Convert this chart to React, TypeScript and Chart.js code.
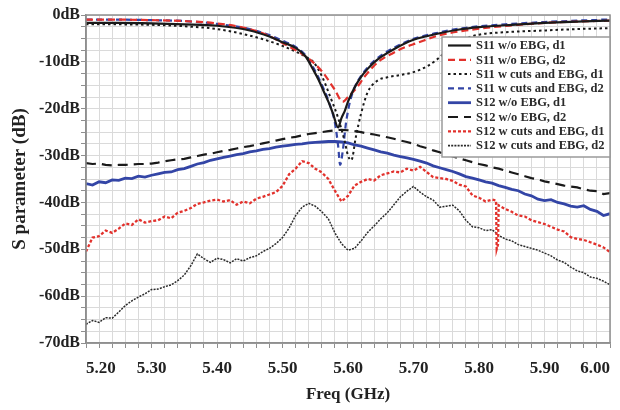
import React, { useEffect, useRef } from "react";
import { Chart, registerables } from "chart.js";

Chart.register(...registerables);

const FONT = '"Liberation Serif", "Times New Roman", serif';

// ---------- axis ----------
const X_MIN = 5.2;
const X_MAX = 6.0;
const Y_MIN = -70;
const Y_MAX = 0;

// ---------- legend labels ----------
const SERIES_LABELS = [
  "S11 w/o EBG, d1",
  "S11 w/o EBG, d2",
  "S11 w cuts and EBG, d1",
  "S11 w cuts and EBG, d2",
  "S12 w/o EBG, d1",
  "S12 w/o EBG, d2",
  "S12 w cuts and EBG, d1",
  "S12 w cuts and EBG, d2",
];

// ---------- S11 w/o EBG, d1 ----------
const S11_WO_D1_FREQ = [5.2, 5.25, 5.3, 5.35, 5.4, 5.45, 5.48, 5.5, 5.52, 5.535, 5.547, 5.555, 5.562, 5.57, 5.577, 5.585, 5.59, 5.595, 5.6, 5.61, 5.62, 5.63, 5.64, 5.65, 5.67, 5.7, 5.74, 5.77, 5.8, 5.85, 5.9, 5.95, 6.0];
const S11_WO_D1_DB = [-1.7, -1.7, -1.8, -2.0, -2.3, -3.3, -4.6, -5.8, -7.0, -8.8, -11.7, -13.8, -16.0, -18.5, -21.0, -24.0, -22.0, -20.5, -18.5, -15.5, -13.2, -11.5, -10.1, -9.0, -7.3, -5.3, -3.9, -3.1, -2.6, -2.1, -1.7, -1.4, -1.2];

// ---------- S11 w/o EBG, d2 ----------
const S11_WO_D2_FREQ = [5.2, 5.25, 5.3, 5.35, 5.4, 5.45, 5.48, 5.5, 5.52, 5.54, 5.56, 5.573, 5.58, 5.592, 5.6, 5.614, 5.625, 5.638, 5.65, 5.669, 5.685, 5.705, 5.74, 5.78, 5.82, 5.86, 5.9, 5.95, 6.0];
const S11_WO_D2_DB = [-1.0, -1.0, -1.1, -1.3, -1.8, -3.0, -4.5, -6.0, -7.5, -9.3, -12.0, -14.5, -16.0, -18.5, -17.5, -15.4, -13.2, -11.1, -9.6, -8.1, -7.0, -6.0, -4.3, -3.3, -2.6, -2.1, -1.7, -1.4, -1.2];

// ---------- S11 w cuts and EBG, d1 ----------
const S11_CUT_D1_FREQ = [5.2, 5.25, 5.3, 5.35, 5.4, 5.45, 5.48, 5.5, 5.52, 5.54, 5.547, 5.56, 5.573, 5.585, 5.595, 5.6, 5.605, 5.612, 5.62, 5.63, 5.645, 5.66, 5.68, 5.7, 5.72, 5.735, 5.76, 5.78, 5.8, 5.85, 5.9, 5.95, 6.0];
const S11_CUT_D1_DB = [-2.0, -2.0, -2.1, -2.4, -3.0, -4.4, -5.6, -6.6, -7.8, -9.3, -10.0, -13.0, -17.5, -22.0, -27.0, -30.0, -31.0, -26.0, -21.0, -16.5, -14.0, -13.3, -12.8, -12.2, -11.0, -9.6, -6.5, -5.0, -4.2, -3.6, -3.3, -3.0, -2.8];

// ---------- S11 w cuts and EBG, d2 ----------
const S11_CUT_D2_FREQ = [5.2, 5.25, 5.3, 5.35, 5.4, 5.45, 5.48, 5.5, 5.52, 5.535, 5.547, 5.562, 5.572, 5.58, 5.585, 5.588, 5.592, 5.597, 5.603, 5.61, 5.62, 5.63, 5.64, 5.65, 5.67, 5.7, 5.74, 5.77, 5.8, 5.85, 5.9, 5.95, 6.0];
const S11_CUT_D2_DB = [-1.0, -1.0, -1.1, -1.3, -1.9, -3.0, -4.3, -5.5, -6.8, -8.6, -11.2, -15.5, -19.0, -23.0, -28.0, -32.0, -29.0, -23.0, -18.5, -15.5, -13.0, -11.2, -9.8, -8.7, -7.0, -5.1, -3.7, -2.9, -2.4, -1.9, -1.5, -1.2, -0.9];

// ---------- S12 common frequency grid ----------
const S12_FREQ = [
  5.2, 5.21, 5.22, 5.23, 5.24, 5.25, 5.26, 5.27, 5.28, 5.29,
  5.3, 5.31, 5.32, 5.33, 5.34, 5.35, 5.36, 5.37, 5.38, 5.39,
  5.4, 5.41, 5.42, 5.43, 5.44, 5.45, 5.46, 5.47, 5.48, 5.49,
  5.5, 5.51, 5.52, 5.53, 5.54, 5.55, 5.56, 5.57, 5.58, 5.59,
  5.6, 5.61, 5.62, 5.63, 5.64, 5.65, 5.66, 5.67, 5.68, 5.69,
  5.7, 5.71, 5.72, 5.73, 5.74, 5.75, 5.76, 5.77, 5.78, 5.79,
  5.8, 5.81, 5.82, 5.83, 5.84, 5.85, 5.86, 5.87, 5.88, 5.89,
  5.9, 5.91, 5.92, 5.93, 5.94, 5.95, 5.96, 5.97, 5.98, 5.99,
  6.0,
];

// ---------- S12 w/o EBG, d1 ----------
const S12_WO_D1_DB = [
  -36.0, -36.3, -35.6, -35.8, -35.2, -35.3, -34.8, -34.9, -34.4, -34.6,
  -34.2, -33.9, -33.6, -33.5, -33.0, -32.8, -32.3, -31.8, -31.5, -31.0,
  -30.7, -30.4, -30.1, -29.8, -29.6, -29.2, -29.0, -28.7, -28.5, -28.2,
  -28.0, -27.8, -27.6, -27.5, -27.3, -27.2, -27.1, -27.0, -27.0, -27.1,
  -27.3, -27.7, -28.0, -28.4, -28.8, -29.2, -29.5, -29.9, -30.2, -30.5,
  -30.8, -31.2, -31.6, -32.2, -32.6, -33.0, -33.4, -33.9, -34.5, -34.8,
  -35.2, -35.6, -35.9, -36.4, -36.8, -37.2, -37.5, -38.2, -38.6, -39.3,
  -39.6, -39.4, -40.0, -40.3, -40.8, -41.0, -40.7, -41.5, -41.9, -42.8,
  -42.4,
];

// ---------- S12 w/o EBG, d2 ----------
const S12_WO_D2_DB = [
  -31.6, -31.8, -31.7, -32.0, -32.1, -32.0, -32.0, -31.9, -31.8, -31.8,
  -31.7, -31.5, -31.2, -31.0, -30.8, -30.7, -30.4, -30.1, -29.8, -29.6,
  -29.3, -29.0, -28.8, -28.5, -28.2, -28.0, -27.7, -27.4, -27.1, -26.8,
  -26.5, -26.2, -26.0, -25.7, -25.4, -25.2, -25.0, -24.8, -24.6, -24.5,
  -24.6, -24.8, -25.0, -25.3, -25.5, -25.8, -26.1, -26.4, -26.8, -27.1,
  -27.5, -28.0, -28.4, -28.9, -29.3, -29.8, -30.2, -30.6, -31.0, -31.4,
  -31.8, -32.1, -32.5, -32.8, -33.2, -33.6, -34.0, -34.4, -34.8, -35.1,
  -35.5, -35.8, -36.1, -36.4, -36.6, -36.8, -37.2, -37.5, -37.6, -38.2,
  -38.0,
];

// ---------- S12 w cuts and EBG, d1 (with narrow notch near 5.83) ----------
const S12_CUT_D1_FREQ = [
  5.2, 5.21, 5.22, 5.23, 5.24, 5.25, 5.26, 5.27, 5.28, 5.29,
  5.3, 5.31, 5.32, 5.33, 5.34, 5.35, 5.36, 5.37, 5.38, 5.39,
  5.4, 5.41, 5.42, 5.43, 5.44, 5.45, 5.46, 5.47, 5.48, 5.49,
  5.5, 5.51, 5.52, 5.53, 5.54, 5.55, 5.56, 5.57, 5.58, 5.59,
  5.6, 5.61, 5.62, 5.63, 5.64, 5.65, 5.66, 5.67, 5.68, 5.69,
  5.7, 5.71, 5.72, 5.73, 5.74, 5.75, 5.76, 5.77, 5.78, 5.79,
  5.8, 5.81, 5.82, 5.826, 5.827, 5.829, 5.83,
  5.84, 5.85, 5.86, 5.87, 5.88, 5.89,
  5.9, 5.91, 5.92, 5.93, 5.94, 5.95, 5.96, 5.97, 5.98, 5.99, 6.0,
];
const S12_CUT_D1_DB = [
  -50.5, -47.5, -47.2, -46.0, -46.5, -45.6, -44.5, -44.8, -43.6, -44.3,
  -44.0, -43.8, -43.0, -43.4, -42.2, -41.8, -41.2, -40.3, -40.0, -39.6,
  -39.4, -39.8, -39.5, -40.5, -39.8, -40.2, -39.2, -38.8, -38.3, -37.8,
  -36.5, -34.0, -32.8, -31.2, -31.6, -32.8, -33.6, -35.0, -37.5, -39.8,
  -38.6, -36.4, -35.6, -35.0, -35.3, -34.2, -33.8, -33.4, -33.6, -32.8,
  -33.2, -32.4, -33.5, -34.6, -34.8, -35.0, -35.4, -36.2, -36.6, -38.5,
  -39.0, -39.8, -39.4, -39.6, -50.0, -49.0, -40.6,
  -41.4, -42.0, -42.8, -43.0, -43.8, -44.2,
  -44.6, -45.2, -45.8, -46.2, -47.4, -47.8, -48.0, -48.5, -49.0, -49.6, -50.6,
];

// ---------- S12 w cuts and EBG, d2 ----------
const S12_CUT_D2_DB = [
  -66.0, -65.2, -65.6, -64.6, -64.7, -63.4, -62.0, -61.0, -60.2, -59.5,
  -58.6, -58.5, -58.0, -57.6, -56.7, -55.5, -53.5, -51.0, -52.0, -52.8,
  -51.9, -52.2, -52.9, -52.0, -52.5, -51.8, -51.4, -50.5, -49.8, -48.8,
  -47.5, -45.5, -42.8, -41.0, -40.2, -40.8, -42.0, -43.5, -46.5, -48.8,
  -50.2, -49.8, -48.2, -46.4, -45.0, -43.5, -42.2, -40.5, -38.8, -37.6,
  -36.6, -37.8, -38.8, -39.5, -41.0, -40.8, -40.6, -41.8, -43.8, -45.2,
  -45.4, -46.0, -45.8, -47.0, -47.8, -48.2, -49.0, -49.4, -49.8, -50.2,
  -50.8, -51.4, -52.3, -52.8, -53.8, -54.6, -55.0, -55.9, -56.2, -56.8,
  -57.6,
];

const BLACK = "#1a1a1a";
const RED = "#e2312c";
const BLUE = "#3345a6";

function pts(xs: number[], ys: number[]) {
  return xs.map((x, i) => ({ x, y: ys[i] }));
}

const frameLegendPlugin = {
  id: "frameLegend",
  afterDatasetsDraw(chart: any) {
    const { ctx, chartArea: a } = chart;
    ctx.save();
    // plot frame
    ctx.strokeStyle = "#8f8f8f";
    ctx.lineWidth = 1.5;
    ctx.setLineDash([]);
    ctx.strokeRect(a.left, a.top, a.right - a.left, a.bottom - a.top);

    // legend box (inside chart area, top right)
    const bw = 168;
    const bh = 120;
    const bx = a.right - bw;
    const by = a.top + 22;
    ctx.fillStyle = "#ffffff";
    ctx.fillRect(bx, by, bw, bh);
    ctx.strokeStyle = "#9a9a9a";
    ctx.lineWidth = 1.5;
    ctx.strokeRect(bx, by, bw, bh);

    ctx.font = `bold 12.5px ${FONT}`;
    ctx.textBaseline = "middle";
    ctx.textAlign = "left";
    chart.data.datasets.forEach((ds: any, i: number) => {
      const y = by + 8.5 + i * 14.3;
      ctx.beginPath();
      ctx.strokeStyle = ds.borderColor;
      ctx.lineWidth = Math.max(ds.borderWidth, 1.8);
      ctx.setLineDash(ds.borderDash || []);
      ctx.moveTo(bx + 6, y);
      ctx.lineTo(bx + 29, y);
      ctx.stroke();
      ctx.setLineDash([]);
      ctx.fillStyle = "#2b2b2b";
      ctx.fillText(ds.label, bx + 34, y + 0.5);
    });
    ctx.restore();
  },
};

export default function App() {
  const ref = useRef<HTMLCanvasElement | null>(null);

  useEffect(() => {
    document.body.style.margin = "0";
    const canvas = ref.current;
    if (!canvas) return;

    const chart = new Chart(canvas, {
      type: "line",
      data: {
        datasets: [
          {
            label: SERIES_LABELS[0],
            data: pts(S11_WO_D1_FREQ, S11_WO_D1_DB),
            borderColor: BLACK,
            borderWidth: 2.2,
            borderDash: [],
            cubicInterpolationMode: "monotone",
          },
          {
            label: SERIES_LABELS[1],
            data: pts(S11_WO_D2_FREQ, S11_WO_D2_DB),
            borderColor: RED,
            borderWidth: 2.2,
            borderDash: [7, 4],
            cubicInterpolationMode: "monotone",
          },
          {
            label: SERIES_LABELS[2],
            data: pts(S11_CUT_D1_FREQ, S11_CUT_D1_DB),
            borderColor: BLACK,
            borderWidth: 2,
            borderDash: [2.5, 3],
            cubicInterpolationMode: "monotone",
          },
          {
            label: SERIES_LABELS[3],
            data: pts(S11_CUT_D2_FREQ, S11_CUT_D2_DB),
            borderColor: BLUE,
            borderWidth: 2.2,
            borderDash: [6, 4],
            cubicInterpolationMode: "monotone",
          },
          {
            label: SERIES_LABELS[4],
            data: pts(S12_FREQ, S12_WO_D1_DB),
            borderColor: BLUE,
            borderWidth: 2.8,
            borderDash: [],
          },
          {
            label: SERIES_LABELS[5],
            data: pts(S12_FREQ, S12_WO_D2_DB),
            borderColor: BLACK,
            borderWidth: 2.2,
            borderDash: [10, 6],
          },
          {
            label: SERIES_LABELS[6],
            data: pts(S12_CUT_D1_FREQ, S12_CUT_D1_DB),
            borderColor: RED,
            borderWidth: 2.3,
            borderDash: [3, 2],
          },
          {
            label: SERIES_LABELS[7],
            data: pts(S12_FREQ, S12_CUT_D2_DB),
            borderColor: "#2a2a2a",
            borderWidth: 1.5,
            borderDash: [2, 1.2],
          },
        ],
      },
      options: {
        animation: false,
        responsive: false,
        maintainAspectRatio: false,
        parsing: false as any,
        elements: {
          point: { radius: 0, hoverRadius: 0 },
          line: { tension: 0 },
        },
        layout: { padding: { left: 0, right: 10, top: 15, bottom: 0 } },
        plugins: {
          legend: { display: false },
          tooltip: { enabled: false },
        },
        scales: {
          x: {
            type: "linear",
            min: X_MIN,
            max: X_MAX,
            afterFit: (s: any) => {
              s.height = 67;
              s.paddingLeft = 0;
              s.paddingRight = 0;
            },
            border: { color: "#8f8f8f", width: 1.5 },
            grid: {
              color: "#dadada",
              lineWidth: 1,
              tickColor: "#8f8f8f",
              tickLength: 5,
            },
            ticks: {
              stepSize: 0.02,
              maxTicksLimit: 200,
              autoSkip: false,
              maxRotation: 0,
              minRotation: 0,
              align: "inner",
              padding: 10,
              color: "#222222",
              font: { family: FONT, size: 17, weight: "bold" },
              callback: (v: any) => {
                const n = Number(v);
                return Math.abs(n * 10 - Math.round(n * 10)) < 1e-6 ? n.toFixed(2) : "";
              },
            },
            title: {
              display: true,
              text: "Freq (GHz)",
              color: "#222222",
              font: { family: FONT, size: 17, weight: "bold" },
              padding: { top: 0, bottom: 5 },
            },
          },
          y: {
            type: "linear",
            min: Y_MIN,
            max: Y_MAX,
            afterFit: (s: any) => {
              s.width = 86;
            },
            border: { color: "#8f8f8f", width: 1.5 },
            grid: {
              color: "#dadada",
              lineWidth: 1,
              tickColor: "#8f8f8f",
              tickLength: 5,
            },
            ticks: {
              stepSize: 2.5,
              maxTicksLimit: 200,
              autoSkip: false,
              padding: 1,
              color: "#222222",
              font: { family: FONT, size: 16, weight: "bold" },
              callback: (v: any) => {
                const n = Math.round(Number(v) * 100) / 100;
                return n % 10 === 0 ? `${n === 0 ? 0 : n}dB` : "";
              },
            },
            title: {
              display: true,
              text: "S parameter (dB)",
              color: "#222222",
              font: { family: FONT, size: 19, weight: "bold" },
              padding: { top: 9, bottom: 0 },
            },
          },
        },
      },
      plugins: [frameLegendPlugin],
    } as any);

    return () => chart.destroy();
  }, []);

  return (
    <div style={{ width: 620, height: 410 }}>
      <canvas ref={ref} width={620} height={410} />
    </div>
  );
}
